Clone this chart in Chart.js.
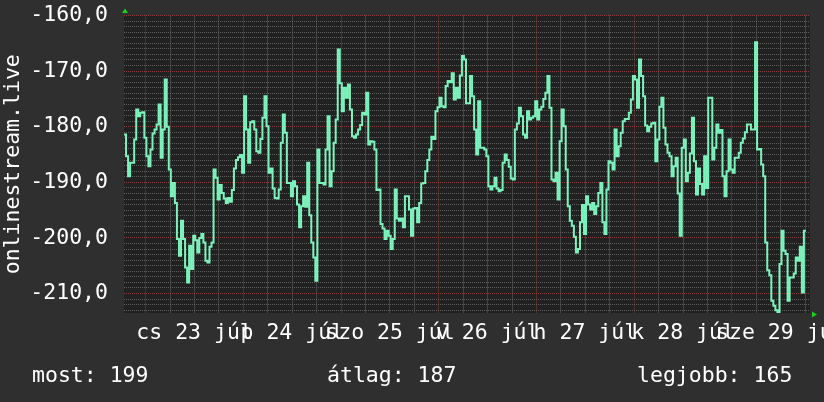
<!DOCTYPE html>
<html><head><meta charset="utf-8">
<script src="https://cdn.jsdelivr.net/npm/chart.js@4/dist/chart.umd.min.js"></script>
<style>
html,body{margin:0;padding:0;background:#2f2f2f;}
#wrap{position:relative;width:824px;height:402px;overflow:hidden;background:#2f2f2f;}
#c{position:absolute;left:0;top:0;}
.leg{position:absolute;top:364px;font-family:'DejaVu Sans Mono',monospace;font-size:21.5px;line-height:21.5px;color:#ffffff;white-space:pre;}
</style></head><body>
<div id="wrap"><canvas id="c" width="824" height="402"></canvas><div id="legend"></div></div>
<script>
// time in hours relative to 2020-07-23 00:00 (Thursday)
const T0 = -5.33;      // first sample
const STEP = 0.5;      // hours per sample
const X_MIN = -5.33, X_MAX = 163.17;
const Y_MIN = -213.5, Y_MAX = -160;
const dayLabels = ['cs 23 júl','p 24 júl','szo 25 júl','v 26 júl','h 27 júl','k 28 júl','sze 29 júl'];
const yTitle = 'onlinestream.live';
const legendNames = ['most','átlag','legjobb'];
const legendValues = [199, 187, 165];
const legendLeft = [32, 327, 637];

const values = [
-181.4,-185.3,-188.9,-186.5,-186.5,-182.3,-176.9,-178.1,-177.5,-177.4,
-182.0,-185.3,-187.1,-184.1,-181.2,-180.5,-179.6,-176.0,-185.6,-180.5,
-171.5,-180.0,-187.7,-192.5,-190.1,-193.7,-200.2,-203.2,-196.9,-200.2,
-205.3,-208.0,-201.4,-205.6,-199.6,-200.4,-202.6,-200.0,-199.3,-200.8,
-204.1,-204.4,-201.6,-200.8,-187.7,-189.2,-193.1,-190.5,-191.9,-192.9,
-193.7,-192.8,-193.5,-191.4,-187.5,-186.0,-185.5,-185.1,-188.3,-174.5,
-180.5,-186.5,-179.2,-179.0,-180.5,-184.4,-184.7,-182.2,-178.4,-174.5,
-179.9,-188.3,-187.5,-191.1,-192.8,-192.9,-191.3,-182.9,-177.8,-181.1,
-190.1,-190.1,-192.5,-189.8,-190.7,
-194.0,-198.1,-194.3,-192.5,-194.4,-186.5,-195.9,-200.8,-203.5,-207.7,
-184.1,-190.1,-190.1,-190.4,-184.1,-178.1,-190.7,-188.0,-182.9,-178.7,
-166.1,-172.2,-177.2,-173.0,-174.8,-172.4,-176.9,-181.7,-182.0,-181.4,
-180.5,-179.7,-177.5,-177.8,-173.9,-183.2,-182.6,-182.7,-184.1,-191.4,
-191.3,-197.5,-198.3,-200.2,-198.7,-199.6,-202.0,-200.2,-191.3,-196.5,
-196.9,-196.5,-198.1,-192.5,-192.5,-194.9,-199.6,-194.7,-194.6,-197.2,
-193.7,-190.2,-190.1,-188.0,-186.0,-184.1,-181.8,-182.2,-177.2,-176.5,
-174.8,-176.3,-176.5,-172.7,-171.8,-172.0,-170.4,-175.1,-173.0,-174.8,
-170.8,-167.3,-167.9,-175.8,
-175.8,-170.9,-174.5,-180.5,-185.0,-175.4,-183.8,-183.8,-184.1,-185.3,
-190.7,-191.3,-190.7,-189.2,-191.1,-191.6,-191.4,-186.5,-185.0,-186.0,
-187.2,-189.3,-189.5,-180.5,-179.4,-176.6,-178.1,-181.4,-182.0,-177.2,
-178.7,-178.4,-178.1,-175.4,-178.7,-176.9,-176.4,-175.0,-173.9,-170.9,
-176.6,-189.5,-189.8,-188.3,-193.1,-182.6,-176.9,-179.9,-187.7,-194.3,
-196.9,-197.8,-199.8,-202.6,-202.0,-197.2,-194.1,-199.3,-192.5,-194.0,
-194.9,-193.7,-195.7,-194.3,-191.9,-190.1,-197.2,-199.3,-191.3,-186.2,
-186.5,-187.7,-180.5,-185.3,-183.5,-181.1,-179.0,-178.6,-178.6,-177.5,
-175.1,-170.9,-171.5,-176.6,-167.9,-170.9,
-174.5,-179.8,-180.8,-180.0,-179.4,-179.3,-186.2,-182.3,
-176.4,-174.8,-180.2,-183.2,-184.7,-185.3,-188.9,-187.1,-185.6,-192.0,
-199.6,-183.8,-182.3,-189.8,-188.3,-184.8,-178.4,-186.2,-192.2,-187.5,
-190.3,-192.2,-185.3,-191.0,-174.8,-174.8,-185.9,-183.8,-179.6,-181.1,
-180.6,-188.9,-192.5,-188.0,-182.3,-187.7,-188.3,-185.6,-185.6,-184.7,
-182.9,-182.1,-181.0,-179.6,-179.6,-180.5,-180.5,-164.8,-184.1,-184.0,
-186.8,-188.9,-200.8,-205.8,-206.7,-211.3,-212.2,-213.0,-213.4,-204.7,
-198.7,-202.3,-202.9,-211.3,-207.1,-207.1,-206.4,-203.5,-204.1,-201.6,
-209.8,-198.7,-198.7
];

const FONT = "'DejaVu Sans Mono', monospace";
const FS = 21.5;
const LINE = '#7cf3bc';
const MAJOR = '#8a3b3b';
const MINOR_H = '#5e5e5e';
const MINOR_V = '#6a6a6a';
const PLOT_BG = '#212121';
const ARROW = '#1fd01f';

// legend text (real text)
const leg = document.getElementById('legend');
legendNames.forEach((n, i) => {
  const d = document.createElement('div');
  d.className = 'leg';
  d.style.left = legendLeft[i] + 'px';
  d.textContent = n + ': ' + legendValues[i];
  leg.appendChild(d);
});

const points = values.map((v, i) => ({x: T0 + i * STEP, y: v}));

const bgPlugin = {
  id: 'plotbg',
  beforeDraw(chart) {
    const {ctx, chartArea: a} = chart;
    ctx.save();
    ctx.fillStyle = PLOT_BG;
    ctx.fillRect(a.left, a.top, a.right - a.left, a.bottom - a.top);
    ctx.restore();
  }
};
const arrowPlugin = {
  id: 'arrows',
  afterDraw(chart) {
    const {ctx, chartArea: a} = chart;
    ctx.save();
    ctx.fillStyle = ARROW;
    ctx.beginPath();
    ctx.moveTo(a.left + 1, a.top - 7);
    ctx.lineTo(a.left - 2, a.top - 2.5);
    ctx.lineTo(a.left + 4, a.top - 2.5);
    ctx.closePath();
    ctx.fill();
    ctx.beginPath();
    ctx.moveTo(a.right + 7, a.bottom + 1.5);
    ctx.lineTo(a.right + 2, a.bottom - 1.5);
    ctx.lineTo(a.right + 2, a.bottom + 4.5);
    ctx.closePath();
    ctx.fill();
    ctx.restore();
  }
};

new Chart(document.getElementById('c'), {
  type: 'line',
  data: {
    datasets: [{
      data: points,
      borderColor: LINE,
      borderWidth: 2,
      pointRadius: 0,
      stepped: true,
      fill: false,
      tension: 0
    }]
  },
  options: {
    responsive: false,
    animation: false,
    devicePixelRatio: 1,
    layout: {padding: {left: 0, top: 15.5, right: 14, bottom: 49}},
    plugins: {legend: {display: false}, tooltip: {enabled: false}},
    scales: {
      x: {
        type: 'linear', min: X_MIN, max: X_MAX,
        grid: {
          color: c => (c.tick && Math.round(c.tick.value) % 24 === 0) ? MAJOR : MINOR_V,
          drawTicks: false, lineWidth: 1
        },
        border: {display: false, dash: [1, 1]},
        ticks: {
          stepSize: 6, includeBounds: false, autoSkip: false, maxRotation: 0, minRotation: 0,
          padding: 8, color: '#ffffff', font: {family: FONT, size: FS},
          callback: v => {
            const r = ((Math.round(v) % 24) + 24) % 24;
            if (r !== 12) return '';
            const idx = (Math.round(v) - 12) / 24;
            return dayLabels[idx] !== undefined ? dayLabels[idx] : '';
          }
        },
        afterFit: s => { s.height = 40; s.paddingLeft = 0; s.paddingRight = 0; }
      },
      y: {
        type: 'linear', min: Y_MIN, max: Y_MAX,
        grid: {
          color: c => (c.tick && Math.round(c.tick.value) % 10 === 0) ? MAJOR : MINOR_H,
          drawTicks: false, lineWidth: 1
        },
        border: {display: false, dash: [1, 1]},
        ticks: {
          stepSize: 1, includeBounds: false, autoSkip: false, padding: 16,
          color: '#ffffff', font: {family: FONT, size: FS},
          callback: v => (Math.round(v) % 10 === 0) ? Number(v).toFixed(1).replace('.', ',') : ''
        },
        title: {display: true, text: yTitle, color: '#ffffff', font: {family: FONT, size: FS}, padding: {top: 1, bottom: 0}},
        afterFit: s => { s.width = 124; s.paddingTop = 0; s.paddingBottom = 0; }
      }
    }
  },
  plugins: [bgPlugin, arrowPlugin]
});
</script>
</body></html>
